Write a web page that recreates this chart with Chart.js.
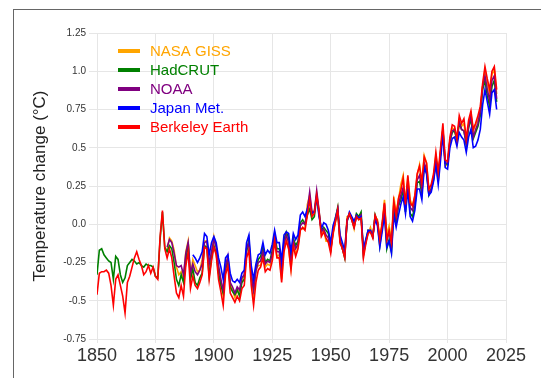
<!DOCTYPE html>
<html><head><meta charset="utf-8">
<script src="https://cdn.jsdelivr.net/npm/chart.js@4"></script>
<style>
html,body{margin:0;padding:0;background:#fff;width:541px;height:378px;overflow:hidden}
#frame{position:absolute;left:13px;top:9px;width:600px;height:400px;border-top:1px solid #666;border-left:1px solid #666}
#wrap{position:absolute;left:0;top:0;width:541px;height:378px}
</style></head><body>
<div id="frame"></div>
<div id="wrap"><canvas id="c" width="541" height="378"></canvas></div>
<script>
// ---- data (anomaly °C, baseline 1951-1980) ----
const seriesNames = ["NASA GISS", "HadCRUT", "NOAA", "Japan Met.", "Berkeley Earth"];
const seriesColors = ["#FFA500", "#008000", "#800080", "#0000FF", "#FF0000"];
const xTickLabels = [1850, 1875, 1900, 1925, 1950, 1975, 2000, 2025];
const yTickLabels = ["-0.75", "-0.5", "-0.25", "0.0", "0.25", "0.5", "0.75", "1.0", "1.25"];
const yTickValues = [-0.75, -0.5, -0.25, 0, 0.25, 0.5, 0.75, 1.0, 1.25];

const nasaStart = 1880;
const nasaGiss = [-0.17,-0.09,-0.11,-0.17,-0.28,-0.33,-0.31,-0.36,-0.18,-0.11,
-0.35,-0.23,-0.27,-0.31,-0.30,-0.23,-0.11,-0.11,-0.27,-0.18,
-0.08,-0.15,-0.28,-0.37,-0.47,-0.26,-0.22,-0.39,-0.43,-0.48,
-0.43,-0.44,-0.36,-0.34,-0.15,-0.14,-0.36,-0.46,-0.30,-0.27,
-0.27,-0.19,-0.28,-0.26,-0.27,-0.22,-0.10,-0.21,-0.20,-0.36,
-0.16,-0.09,-0.16,-0.29,-0.12,-0.20,-0.15,-0.03,-0.03,-0.02,
0.13,0.19,0.07,0.09,0.20,0.09,-0.07,-0.03,-0.11,-0.11,
-0.17,-0.07,0.01,0.08,-0.13,-0.14,-0.19,0.05,0.06,0.03,
-0.03,0.06,0.03,0.05,-0.20,-0.11,-0.06,-0.02,-0.08,0.05,
0.03,-0.08,0.01,0.16,-0.07,-0.01,-0.10,0.18,0.07,0.16,
0.26,0.32,0.14,0.31,0.16,0.12,0.18,0.32,0.39,0.27,
0.45,0.40,0.22,0.23,0.31,0.45,0.33,0.46,0.61,0.38,
0.39,0.54,0.63,0.62,0.53,0.68,0.64,0.66,0.54,0.65,
0.72,0.61,0.65,0.68,0.75,0.90,1.01,0.92,0.85,0.98,
1.01,0.85];

const hadcrutStart = 1850;
const hadcrut = [-0.33,-0.17,-0.16,-0.20,-0.22,-0.24,-0.25,-0.36,-0.21,-0.23,
-0.33,-0.38,-0.35,-0.27,-0.25,-0.23,-0.24,-0.26,-0.25,-0.27,
-0.28,-0.26,-0.27,-0.27,-0.28,-0.34,-0.35,-0.10,0.08,-0.15,
-0.18,-0.14,-0.16,-0.25,-0.36,-0.40,-0.33,-0.38,-0.25,-0.12,
-0.36,-0.29,-0.38,-0.40,-0.35,-0.32,-0.14,-0.15,-0.34,-0.22,
-0.14,-0.19,-0.32,-0.40,-0.45,-0.30,-0.23,-0.41,-0.44,-0.46,
-0.43,-0.47,-0.38,-0.36,-0.18,-0.10,-0.33,-0.42,-0.29,-0.23,
-0.21,-0.15,-0.25,-0.23,-0.24,-0.17,-0.06,-0.16,-0.16,-0.30,
-0.10,-0.05,-0.09,-0.23,-0.09,-0.14,-0.11,0.01,0.03,0.00,
0.06,0.10,0.03,0.05,0.18,0.07,-0.04,-0.02,-0.04,-0.06,
-0.16,-0.04,0.04,0.11,-0.10,-0.16,-0.22,0.02,0.07,0.04,
-0.01,0.07,0.05,0.08,-0.19,-0.11,-0.04,-0.05,-0.08,0.06,
0.01,-0.14,-0.02,0.10,-0.16,-0.10,-0.18,0.10,0.01,0.12,
0.16,0.22,0.08,0.27,0.07,0.05,0.12,0.27,0.28,0.20,
0.38,0.34,0.19,0.23,0.29,0.41,0.28,0.47,0.62,0.40,
0.39,0.54,0.60,0.61,0.55,0.66,0.62,0.61,0.52,0.63,
0.69,0.56,0.60,0.64,0.71,0.88,0.94,0.84,0.77,0.90,
0.94,0.80];

const noaaStart = 1880;
const noaa = [-0.15,-0.10,-0.12,-0.19,-0.27,-0.28,-0.27,-0.33,-0.19,-0.12,
-0.32,-0.26,-0.31,-0.33,-0.30,-0.26,-0.12,-0.11,-0.26,-0.18,
-0.10,-0.15,-0.27,-0.36,-0.43,-0.28,-0.21,-0.38,-0.41,-0.45,
-0.41,-0.43,-0.35,-0.33,-0.16,-0.12,-0.33,-0.43,-0.30,-0.25,
-0.24,-0.18,-0.26,-0.24,-0.25,-0.19,-0.08,-0.18,-0.18,-0.32,
-0.13,-0.07,-0.12,-0.25,-0.11,-0.16,-0.13,-0.01,0.01,0.00,
0.09,0.21,0.08,0.08,0.22,0.09,-0.05,-0.03,-0.07,-0.09,
-0.17,-0.05,0.02,0.09,-0.11,-0.16,-0.21,0.03,0.06,0.03,
-0.02,0.05,0.04,0.06,-0.20,-0.12,-0.05,-0.04,-0.08,0.05,
0.01,-0.11,-0.01,0.13,-0.11,-0.05,-0.13,0.13,0.04,0.13,
0.19,0.24,0.11,0.28,0.11,0.09,0.15,0.29,0.32,0.23,
0.40,0.36,0.20,0.23,0.30,0.43,0.31,0.47,0.62,0.40,
0.40,0.55,0.61,0.62,0.56,0.67,0.62,0.61,0.53,0.64,
0.71,0.57,0.62,0.66,0.74,0.90,0.97,0.88,0.81,0.94,
0.97,0.82];

const jmaStart = 1891;
const jma = [-0.20,-0.22,-0.25,-0.22,-0.18,-0.06,-0.08,-0.20,-0.12,
-0.08,-0.12,-0.22,-0.28,-0.36,-0.22,-0.20,-0.32,-0.37,-0.38,
-0.36,-0.38,-0.32,-0.30,-0.12,-0.07,-0.27,-0.36,-0.26,-0.20,
-0.19,-0.12,-0.20,-0.17,-0.19,-0.13,-0.04,-0.12,-0.12,-0.24,
-0.07,-0.05,-0.06,-0.18,-0.06,-0.10,-0.07,0.06,0.08,0.05,
0.10,0.15,0.07,0.08,0.18,0.05,-0.03,0.01,0.00,-0.04,
-0.12,-0.01,0.04,0.10,-0.07,-0.12,-0.17,0.02,0.08,0.05,
0.02,0.06,0.04,0.05,-0.16,-0.10,-0.04,-0.04,-0.08,0.03,
-0.01,-0.15,-0.05,0.06,-0.15,-0.11,-0.19,0.06,-0.02,0.06,
0.13,0.18,0.07,0.23,0.05,0.02,0.09,0.23,0.23,0.16,
0.37,0.33,0.19,0.21,0.28,0.39,0.26,0.42,0.59,0.37,
0.36,0.50,0.56,0.57,0.51,0.60,0.57,0.55,0.47,0.57,
0.62,0.50,0.51,0.55,0.62,0.78,0.88,0.80,0.72,0.86,
0.88,0.75];

const berkeleyStart = 1850;
const berkeley = [-0.46,-0.32,-0.31,-0.31,-0.30,-0.32,-0.40,-0.53,-0.36,-0.33,
-0.40,-0.47,-0.58,-0.38,-0.34,-0.28,-0.22,-0.18,-0.23,-0.27,
-0.33,-0.31,-0.27,-0.32,-0.28,-0.34,-0.36,-0.08,0.09,-0.16,
-0.22,-0.16,-0.22,-0.34,-0.45,-0.48,-0.40,-0.47,-0.27,-0.18,
-0.42,-0.34,-0.40,-0.42,-0.38,-0.33,-0.15,-0.16,-0.36,-0.24,
-0.15,-0.20,-0.36,-0.44,-0.53,-0.33,-0.27,-0.45,-0.48,-0.51,
-0.47,-0.50,-0.42,-0.40,-0.22,-0.17,-0.40,-0.53,-0.38,-0.30,
-0.28,-0.22,-0.31,-0.29,-0.30,-0.24,-0.11,-0.22,-0.22,-0.38,
-0.18,-0.11,-0.16,-0.30,-0.14,-0.21,-0.16,-0.04,-0.02,-0.04,
0.06,0.16,0.05,0.07,0.19,0.08,-0.08,-0.05,-0.09,-0.12,
-0.19,-0.06,0.02,0.10,-0.12,-0.16,-0.22,0.03,0.07,0.03,
-0.02,0.05,0.03,0.04,-0.22,-0.13,-0.06,-0.05,-0.09,0.06,
0.02,-0.10,0.00,0.14,-0.10,-0.04,-0.12,0.15,0.06,0.17,
0.22,0.30,0.13,0.32,0.14,0.12,0.19,0.33,0.38,0.27,
0.44,0.40,0.23,0.26,0.33,0.47,0.34,0.50,0.66,0.42,
0.41,0.57,0.65,0.64,0.56,0.71,0.66,0.69,0.56,0.68,
0.74,0.62,0.66,0.71,0.77,0.92,1.03,0.95,0.88,1.00,
1.03,0.88];

const seriesValues = [nasaGiss, hadcrut, noaa, jma, berkeley];
const seriesStarts = [nasaStart, hadcrutStart, noaaStart, jmaStart, berkeleyStart];

function toPoints(vals, start) { return vals.map((v, i) => ({x: start + i, y: v})); }

const FONT = "'Liberation Sans', Arial, sans-serif";

const insideLegend = {
  id: 'insideLegend',
  afterDraw(chart) {
    const ctx = chart.ctx;
    ctx.save();
    ctx.font = "15px " + FONT;
    ctx.textBaseline = 'middle';
    ctx.textAlign = 'left';
    seriesNames.forEach((name, i) => {
      const y = 51 + i * 19;
      ctx.strokeStyle = seriesColors[i];
      ctx.lineWidth = 4;
      ctx.beginPath(); ctx.moveTo(118, y); ctx.lineTo(140, y); ctx.stroke();
      ctx.fillStyle = seriesColors[i];
      ctx.fillText(name, 150, y + 1);
    });
    ctx.restore();
  }
};

new Chart(document.getElementById('c'), {
  type: 'line',
  data: {
    datasets: seriesNames.map((name, i) => ({
      label: name,
      data: toPoints(seriesValues[i], seriesStarts[i]),
      borderColor: seriesColors[i],
      backgroundColor: seriesColors[i],
      borderWidth: 1.6,
      pointRadius: 0,
      tension: 0,
      fill: false,
      order: 4 - i
    }))
  },
  options: {
    responsive: false,
    animation: false,
    devicePixelRatio: 1,
    layout: { padding: { top: 33, right: 35, left: 0, bottom: 0 } },
    plugins: { legend: { display: false }, tooltip: { enabled: false } },
    scales: {
      x: {
        type: 'linear', min: 1850, max: 2025,
        afterBuildTicks: (s) => { s.ticks = xTickLabels.map(v => ({value: v})); },
        ticks: { font: { family: FONT, size: 18 }, color: '#333', padding: 2, maxRotation: 0,
                 callback: (v) => String(v) },
        grid: { color: '#e6e6e6', tickLength: 4 },
        border: { display: false },
        afterFit: (s) => { s.height = 39; }
      },
      y: {
        min: -0.75, max: 1.25,
        afterBuildTicks: (s) => { s.ticks = yTickValues.map(v => ({value: v})); },
        ticks: { font: { family: FONT, size: 10 }, color: '#333', padding: 3,
                 callback: (v) => { const k = yTickValues.indexOf(v); return k >= 0 ? yTickLabels[k] : ''; } },
        grid: { color: '#e6e6e6', tickLength: 8 },
        border: { display: false },
        title: { display: true, text: 'Temperature change (°C)', color: '#222',
                 font: { family: FONT, size: 17 }, padding: { top: 30, bottom: 0 } },
        afterFit: (s) => { s.width = 97; }
      }
    }
  },
  plugins: [insideLegend]
});
</script>
</body></html>
